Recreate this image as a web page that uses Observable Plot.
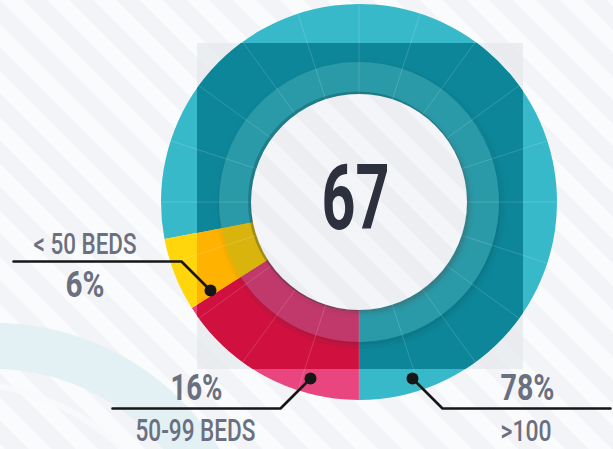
<!DOCTYPE html>
<html><head><meta charset="utf-8">
<script src="https://cdn.jsdelivr.net/npm/d3@7"></script>
<script src="https://cdn.jsdelivr.net/npm/@observablehq/plot@0.6"></script>
<style>
html,body{margin:0;padding:0;background:#f6f7f9;overflow:hidden}
#chart svg{display:block}
</style></head>
<body><div id="chart"></div>
<script>
// ---- data ----
const categories = [">100", "50-99 BEDS", "< 50 BEDS"];
const shares = [78, 16, 6];
const shareLabels = ["78%", "16%", "6%"];
const totalLabel = "67";

// ---- styles ----
const palette = {
  ">100":       {light: "#37b9c9", dark: "#0d8699", band: "#2c9aa8"},
  "50-99 BEDS": {light: "#e9457f", dark: "#d0113f", band: "#c1396a"},
  "< 50 BEDS":  {light: "#ffd50c", dark: "#ffb300", band: "#d8b40f"}
};
const clockwiseFromBottom = ["50-99 BEDS", "< 50 BEDS", ">100"];
const rows = categories.map((c, i) => ({category: c, share: shares[i], label: shareLabels[i]}));

const W = 613, H = 449;
const C = {x: 359, y: 202}, R_OUT = 198, R_BAND = 140, R_IN = 108;
const SQ = {x0: 197, y0: 43, x1: 523, y1: 369};

const pie = d3.pie().value(d => d.share)
  .sort((a, b) => clockwiseFromBottom.indexOf(a.category) - clockwiseFromBottom.indexOf(b.category))
  .startAngle(Math.PI).endAngle(3 * Math.PI);
const arcs = pie(rows);

function stripePattern(defs, id, base, stripe) {
  const p = defs.append("pattern").attr("id", id).attr("patternUnits", "userSpaceOnUse")
    .attr("width", 33).attr("height", 33).attr("patternTransform", "rotate(-45)");
  p.append("rect").attr("width", 33).attr("height", 33).attr("fill", base);
  p.append("rect").attr("width", 16).attr("height", 33).attr("fill", stripe);
}

function background(index, scales) {
  const x = scales.x, y = scales.y;
  const g = d3.create("svg:g");
  const defs = g.append("defs");
  stripePattern(defs, "stripes", "#f3f4f7", "#fafbfc");
  g.append("rect").attr("x", x(0)).attr("y", y(0)).attr("width", x(W) - x(0)).attr("height", y(H) - y(0)).attr("fill", "url(#stripes)");
  // decorative swoosh bottom-left
  g.append("circle").attr("cx", x(-6)).attr("cy", y(588)).attr("r", 242)
    .attr("fill", "none").attr("stroke", "#e1f0f3").attr("stroke-width", 46).attr("opacity", 0.9);
  g.append("circle").attr("cx", x(-40)).attr("cy", y(615)).attr("r", 232)
    .attr("fill", "none").attr("stroke", "#f8fafb").attr("stroke-width", 6).attr("opacity", 0.9);
  // square overlay
  g.append("rect").attr("x", x(SQ.x0)).attr("y", y(SQ.y0)).attr("width", x(SQ.x1) - x(SQ.x0)).attr("height", y(SQ.y1) - y(SQ.y0))
    .attr("fill", "#e3e6eb").attr("opacity", 0.65);
  return g.node();
}

function donut(index, scales) {
  const x = scales.x, y = scales.y;
  const cx = x(C.x), cy = y(C.y);
  const g = d3.create("svg:g");
  const defs = g.append("defs");
  defs.append("clipPath").attr("id", "sqclip").append("rect")
    .attr("x", x(SQ.x0)).attr("y", y(SQ.y0)).attr("width", x(SQ.x1) - x(SQ.x0)).attr("height", y(SQ.y1) - y(SQ.y0));
  const f1 = defs.append("filter").attr("id", "bandShadow").attr("x", "-20%").attr("y", "-20%").attr("width", "140%").attr("height", "140%");
  f1.append("feDropShadow").attr("dx", 2).attr("dy", 3).attr("stdDeviation", 3).attr("flood-color", "#00303a").attr("flood-opacity", 0.22);
  const f2 = defs.append("filter").attr("id", "holeShadow").attr("x", "-20%").attr("y", "-20%").attr("width", "140%").attr("height", "140%");
  f2.append("feDropShadow").attr("dx", 3).attr("dy", 3).attr("stdDeviation", 2.5).attr("flood-color", "#444").attr("flood-opacity", 0.35);
  stripePattern(defs, "innerStripes", "#eceef2", "#f4f5f8");

  const outer = d3.arc().innerRadius(R_IN).outerRadius(R_OUT);
  const band = d3.arc().innerRadius(R_IN - 2).outerRadius(R_BAND);
  const light = g.append("g").attr("transform", `translate(${cx},${cy})`);
  light.selectAll("path").data(arcs).join("path")
    .attr("d", outer).attr("fill", d => palette[d.data.category].light);
  const inSq = g.append("g").attr("clip-path", "url(#sqclip)").append("g").attr("transform", `translate(${cx},${cy})`);
  inSq.selectAll("path").data(arcs).join("path")
    .attr("d", outer).attr("fill", d => palette[d.data.category].dark);
  const top = g.append("g").attr("transform", `translate(${cx},${cy})`);
  const bandG = top.append("g").attr("filter", "url(#bandShadow)");
  bandG.selectAll("path").data(arcs).join("path")
    .attr("d", band).attr("fill", d => palette[d.data.category].band);
  // faint radial dividers every 5%
  const ticks = d3.range(0, 100, 5);
  const ang = t => t / 100 * 2 * Math.PI;
  top.selectAll("line").data(ticks).join("line")
    .attr("x1", t => R_IN * Math.sin(ang(t))).attr("y1", t => -R_IN * Math.cos(ang(t)))
    .attr("x2", t => R_OUT * Math.sin(ang(t))).attr("y2", t => -R_OUT * Math.cos(ang(t)))
    .attr("stroke", "#ffffff").attr("stroke-opacity", 0.22).attr("stroke-width", 0.7);
  // inner hole
  top.append("circle").attr("cx", -1.5).attr("cy", -1).attr("r", R_IN + 1.5).attr("fill", "#00222a").attr("opacity", 0.25);
  top.append("circle").attr("r", R_IN).attr("fill", "url(#innerStripes)").attr("filter", "url(#holeShadow)");
  return g.node();
}

// ---- label layout ----
const font = "Roboto, 'DejaVu Sans', sans-serif";
const grey = "#6b7080";
const textSpecs = [
  {text: totalLabel,     x: 321, y: 228, w: 68,  size: 91, weight: 700, fill: "#2d303d"},
  {text: categories[2],  x: 33,  y: 253, w: 103, size: 30, weight: 500, fill: grey},
  {text: shareLabels[2], x: 65,  y: 296, w: 39,  size: 37, weight: 700, fill: grey},
  {text: shareLabels[1], x: 170, y: 399, w: 52,  size: 37, weight: 700, fill: grey},
  {text: categories[1],  x: 135, y: 440, w: 120, size: 31, weight: 500, fill: grey},
  {text: shareLabels[0], x: 500, y: 399, w: 54,  size: 37, weight: 700, fill: grey},
  {text: categories[0],  x: 500, y: 440, w: 51,  size: 29, weight: 500, fill: grey}
];
const leaders = [
  {id: categories[2], pts: [[13, 261], [181, 261], [210, 290]]},
  {id: categories[1], pts: [[112, 408], [280, 408], [310, 378]]},
  {id: categories[0], pts: [[610, 408], [442, 408], [412, 378]]}
];
const leaderPts = leaders.flatMap(l => l.pts.map(([x, y]) => ({id: l.id, x, y})));
const leaderDots = leaders.map(l => ({id: l.id, x: l.pts[2][0], y: l.pts[2][1]}));

const chart = Plot.plot({
  width: W, height: H, margin: 0,
  style: {background: "transparent", overflow: "visible"},
  x: {domain: [0, W], range: [0, W], axis: null},
  y: {domain: [0, H], range: [0, H], axis: null},
  marks: [
    background,
    donut,
    Plot.line(leaderPts, {x: "x", y: "y", z: "id", stroke: "#161616", strokeWidth: 2.6, strokeLinejoin: "miter"}),
    Plot.dot(leaderDots, {x: "x", y: "y", r: 6, fill: "#161616"}),
    ...textSpecs.map(s => Plot.text([s], {
      x: "x", y: "y", text: "text", textAnchor: "start", lineAnchor: "bottom",
      fontSize: s.size, fontWeight: s.weight, fill: s.fill, fontFamily: font
    }))
  ]
});
document.getElementById("chart").appendChild(chart);
chart.querySelectorAll('g[aria-label="text"] text').forEach((t, i) => {
  t.setAttribute("textLength", textSpecs[i].w);
  t.setAttribute("lengthAdjust", "spacingAndGlyphs");
});
</script>
</body></html>
